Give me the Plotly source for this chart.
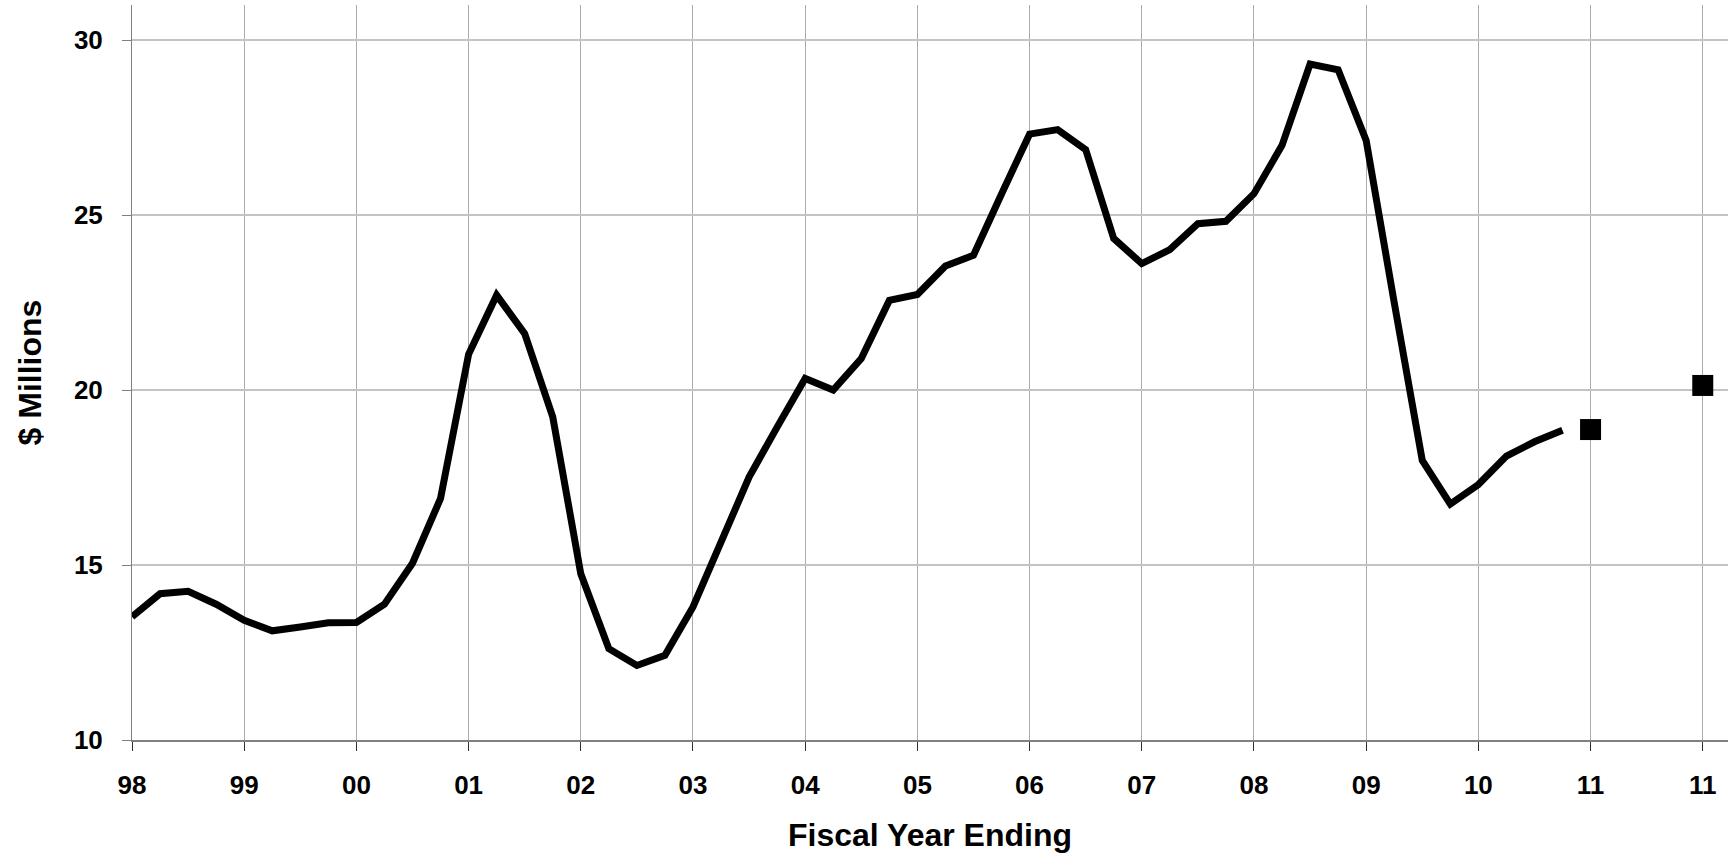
import plotly.graph_objects as go

# Quarterly values ($ millions), index 0 = FY98
actual_values = [
    13.52, 14.18, 14.25, 13.88, 13.42, 13.12, 13.23, 13.35,   # 98-99
    13.36, 13.88, 15.05, 16.90, 21.02, 22.71, 21.61, 19.23,   # 00-01
    14.75, 12.61, 12.13, 12.42, 13.80, 15.66, 17.51, 18.94,   # 02-03
    20.33, 20.00, 20.90, 22.56, 22.73, 23.54, 23.85, 25.60,   # 04-05
    27.31, 27.44, 26.87, 24.33, 23.61, 24.01, 24.75, 24.82,   # 06-07
    25.61, 26.99, 29.31, 29.15, 27.13, 22.50, 17.99, 16.74,   # 08-09
    17.30, 18.11, 18.52, 18.85,                               # 10
]
actual_index = list(range(len(actual_values)))

forecast_index = [52, 56]
forecast_values = [18.87, 20.13]

tick_index = list(range(0, 57, 4))
tick_labels = ["98", "99", "00", "01", "02", "03", "04", "05", "06",
               "07", "08", "09", "10", "11", "11"]

fig = go.Figure()
fig.add_trace(go.Scatter(
    x=actual_index, y=actual_values, mode="lines",
    line=dict(color="#000000", width=7),
    showlegend=False, hoverinfo="skip",
))
fig.add_trace(go.Scatter(
    x=forecast_index, y=forecast_values, mode="markers",
    marker=dict(symbol="square", size=21, color="#000000"),
    showlegend=False, hoverinfo="skip",
))

font_family = "Liberation Sans, Arial, sans-serif"

fig.update_layout(
    width=1728, height=856,
    margin=dict(l=132, r=0, t=5, b=116),
    paper_bgcolor="white", plot_bgcolor="white",
    font=dict(family=font_family, color="#000000"),
    hovermode=False,
    xaxis=dict(
        range=[0, 56.9],
        tickmode="array", tickvals=tick_index, ticktext=tick_labels,
        showgrid=True, gridcolor="#acacac", gridwidth=1,
        zeroline=False,
        showline=True, linecolor="#808080", linewidth=2,
        ticks="outside", ticklen=9, tickcolor="#303030", tickwidth=1,
        tickfont=dict(size=26, family=font_family, weight="bold"),
        ticklabelstandoff=12,
        title=dict(text="<b>Fiscal Year Ending</b>",
                   font=dict(size=32, family=font_family), standoff=24),
    ),
    yaxis=dict(
        range=[10, 31],
        tickmode="array", tickvals=[10, 15, 20, 25, 30],
        showgrid=True, gridcolor="#c4c4c4", gridwidth=2,
        zeroline=False,
        showline=True, linecolor="#808080", linewidth=1,
        ticks="outside", ticklen=9, tickcolor="#808080", tickwidth=1,
        tickfont=dict(size=26, family=font_family, weight="bold"),
        ticklabelstandoff=14,
        title=dict(text="<b>$ Millions</b>",
                   font=dict(size=32, family=font_family), standoff=22),
    ),
)

fig.write_html(
    "out.html",
    config={"displayModeBar": False},
    post_script="document.body.style.margin='0';document.body.style.overflow='hidden';",
)
